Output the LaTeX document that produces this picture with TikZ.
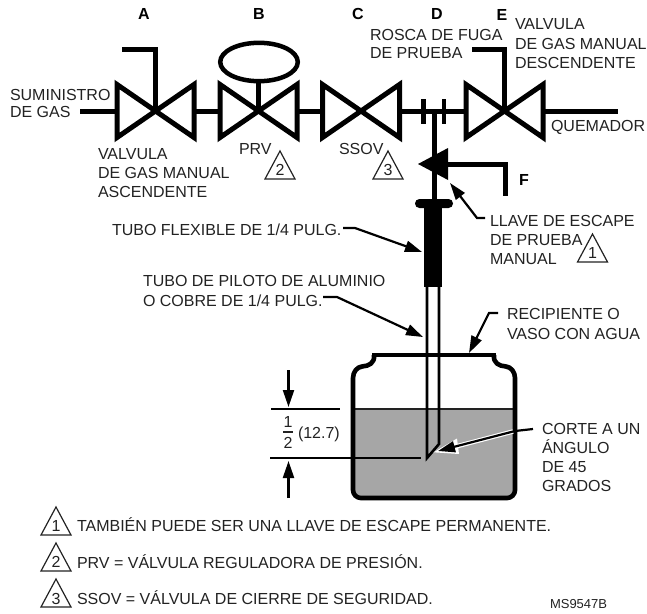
\documentclass[tikz,border=0pt]{standalone}
\usepackage{fontspec}
\setmainfont{Liberation Sans}
\usetikzlibrary{arrows.meta}
\definecolor{ink}{HTML}{222222}
\definecolor{water}{HTML}{A6A6A6}
\tikzset{
  lbl/.style={anchor=base west,inner sep=0pt,outer sep=0pt,text=ink,font=\fontsize{16}{18}\selectfont},
  letter/.style={anchor=base,inner sep=0pt,outer sep=0pt,text=black,font=\fontsize{16}{18}\selectfont\bfseries},
  tiny/.style={anchor=base west,inner sep=0pt,outer sep=0pt,text=ink,font=\fontsize{13}{15}\selectfont},
  num/.style={anchor=base,inner sep=0pt,outer sep=0pt,text=ink,font=\fontsize{16}{18}\selectfont},
  pipe/.style={draw=black,line width=5pt,miter limit=10},
  thinpipe/.style={draw=black,line width=2.6pt},
  leader/.style={draw=black,line width=2.2pt,-{Triangle[length=17pt,width=11pt]}},
  tri/.style={draw=ink,line width=1.2pt,line join=miter},
  valve/.pic={\draw[pipe] (-38.5,-26.5)--(-38.5,26.5)--(38.5,-26.5)--(38.5,26.5)--cycle;},
  refmark/.pic={\draw[tri] (0,0)--(15,28)--(-15,28)--cycle;}
}
\begin{document}
\begin{tikzpicture}[x=1pt,y=-1pt]
\useasboundingbox (0,0) rectangle (647,613);
% anchor points
\coordinate (va) at (155.5,111);
\coordinate (vb) at (258.5,111);
\coordinate (vc) at (361,111);
\coordinate (ve) at (504.5,111);
\coordinate (vd) at (434,111);
\coordinate (reg) at (259,62);
% water
\fill[water] (353,409) -- (515,409) -- (515,490) arc[start angle=0,end angle=90,radius=8] -- (361,498) arc[start angle=90,end angle=180,radius=8] -- cycle;
\draw[draw=ink,line width=1.5pt] (353,409) -- (515,409);
% pipes
\draw[pipe] (80,111) -- (117,111);
\draw[pipe] (194,111) -- (220,111);
\draw[pipe] (297,111) -- (323,111);
\draw[pipe] (400,111) -- (466,111);
\draw[pipe] (543,111) -- (618,111);
\draw[pipe] (423,99) -- (423,124);
\draw[draw=black,line width=4pt] (444,99) -- (444,124);
\draw[pipe] (vd) -- (434,200);
% valves
\pic at (va) {valve};
\pic at (vb) {valve};
\pic at (vc) {valve};
\pic at (ve) {valve};
% stems
\draw[pipe] (122,49.5) -- (155.5,49.5) -- (va);
\draw[pipe] (472,49.5) -- (504.5,49.5) -- (ve);
\draw[pipe] (vb) -- (258.5,80);
\draw[draw=black,line width=4.5pt] (reg) ellipse[x radius=38.8,y radius=19.2];
% test cock
\fill[black] (418,164) -- (448,148) -- (448,180) -- cycle;
\draw[pipe] (448,164) -- (505,164) -- (505,196);
% flexible tube
\fill[black,rounded corners=4.4pt] (415,199) rectangle (453,208);
\fill[black] (424,204) rectangle (442,287);
% pilot tube
\draw[thinpipe,line join=miter] (427,287) -- (427,458) -- (439,444) -- (439,287);
% jar
\draw[draw=black,line width=4.6pt,line join=round]
  (372,355) -- (496,355);
\draw[draw=black,line width=4.6pt,line join=round]
  (374,355) .. controls (375,363) and (369,366) .. (362,366.5)
  .. controls (357,367) and (353,372) .. (353,378)
  -- (353,490) arc[start angle=180,end angle=90,radius=8]
  -- (507,498) arc[start angle=90,end angle=0,radius=8]
  -- (515,378)
  .. controls (515,372) and (511,367) .. (506,366.5)
  .. controls (499,366) and (493,363) .. (494,355);
% dimensions
\draw[draw=black,line width=2.2pt] (271,409) -- (340,409);
\draw[draw=black,line width=1.5pt] (270,458) -- (421,458);
\coordinate (dimA) at (288.5,370);
\coordinate (dimAt) at (288.5,407);
\coordinate (dimB) at (288.5,498);
\coordinate (dimBt) at (288.5,461);
\draw[leader] (dimA) -- (dimAt);
\draw[leader] (dimB) -- (dimBt);
\node[num] (fa) at (288,427) {1};
\draw[draw=ink,line width=1.2pt] (283,432) -- (293,432);
\node[num] (fb) at (288,448) {2};
\node[lbl] (dimt) at (298,438) {(12.7)};
% labels
\node[letter] (la) at (144,19) {A};
\node[letter] (lb) at (259,19) {B};
\node[letter] (lc) at (358,19) {C};
\node[letter] (ld) at (437,19) {D};
\node[letter] (le) at (502,20) {E};
\node[letter] (lf) at (524,185) {F};
\node[lbl] (t1) at (10,100) {SUMINISTRO};
\node[lbl] (t2) at (10,117) {DE GAS};
\node[lbl] (t3) at (98,159.5) {VALVULA};
\node[lbl] (t4) at (98,178) {DE GAS MANUAL};
\node[lbl] (t5) at (98,197) {ASCENDENTE};
\node[lbl] (t6) at (239,154) {PRV};
\node[lbl] (t7) at (339,154) {SSOV};
\node[lbl] (t8) at (370,40.5) {ROSCA DE FUGA};
\node[lbl] (t9) at (370,58) {DE PRUEBA};
\node[lbl] (t10) at (515,29) {VALVULA};
\node[lbl] (t11) at (515,49) {DE GAS MANUAL};
\node[lbl] (t12) at (515,68) {DESCENDENTE};
\node[lbl] (t13) at (551,131) {QUEMADOR};
\node[lbl] (t14) at (490,226) {LLAVE DE ESCAPE};
\node[lbl] (t15) at (490,245) {DE PRUEBA};
\node[lbl] (t16) at (490,264) {MANUAL};
\node[lbl] (t17) at (112,235) {TUBO FLEXIBLE DE 1/4 PULG.};
\node[lbl] (t18) at (143,286) {TUBO DE PILOTO DE ALUMINIO};
\node[lbl] (t19) at (143,306) {O COBRE DE 1/4 PULG.};
\node[lbl] (t20) at (507,319) {RECIPIENTE O};
\node[lbl] (t21) at (507,339) {VASO CON AGUA};
\node[lbl] (t22) at (542,434) {CORTE A UN};
\node[lbl] (t23) at (542,453) {ÁNGULO};
\node[lbl] (t24) at (542,472) {DE 45};
\node[lbl] (t25) at (542,491) {GRADOS};
\node[lbl] (n1) at (77,531) {TAMBIÉN PUEDE SER UNA LLAVE DE ESCAPE PERMANENTE.};
\node[lbl] (n2) at (77,568) {PRV = VÁLVULA REGULADORA DE PRESIÓN.};
\node[lbl] (n3) at (77,604) {SSOV = VÁLVULA DE CIERRE DE SEGURIDAD.};
\node[tiny] (ms) at (550,608) {MS9547B};
% reference triangles
\pic at (280,151) {refmark};
\node[num] at (280,175) {2};
\pic at (388,151) {refmark};
\node[num] at (388,175) {3};
\pic at (592.5,234) {refmark};
\node[num] at (592.5,258.5) {1};
\pic at (56,507) {refmark};
\node[num] at (56,531) {1};
\pic at (56,543) {refmark};
\node[num] at (56,567) {2};
\pic at (56,579) {refmark};
\node[num] at (56,604) {3};
% leaders
\coordinate (la1) at (485,218);
\coordinate (la2) at (477,218);
\coordinate (la3) at (450,183);
\draw[leader] (la1) -- (la2) -- (la3);
\coordinate (lb1) at (343,228);
\coordinate (lb2) at (355,228);
\coordinate (lb3) at (422,252);
\draw[leader] (lb1) -- (lb2) -- (lb3);
\coordinate (lc1) at (323,297);
\coordinate (lc2) at (337,297);
\coordinate (lc3) at (423,337);
\draw[leader] (lc1) -- (lc2) -- (lc3);
\coordinate (ld1) at (498,313);
\coordinate (ld2) at (489,313);
\coordinate (ld3) at (469,353);
\draw[leader] (ld1) -- (ld2) -- (ld3);
% cut leader with white halo
\coordinate (le1) at (533,429);
\coordinate (le2) at (515,431);
\coordinate (le3) at (438,451);
\draw[draw=white,line width=4.5pt] (513,431.5) -- (452,447.5);
\fill[white] (433.5,452.3) -- (457,438.5) -- (459,454) -- cycle;
\draw[leader] (le1) -- (le2) -- (le3);
\end{tikzpicture}
\end{document}
